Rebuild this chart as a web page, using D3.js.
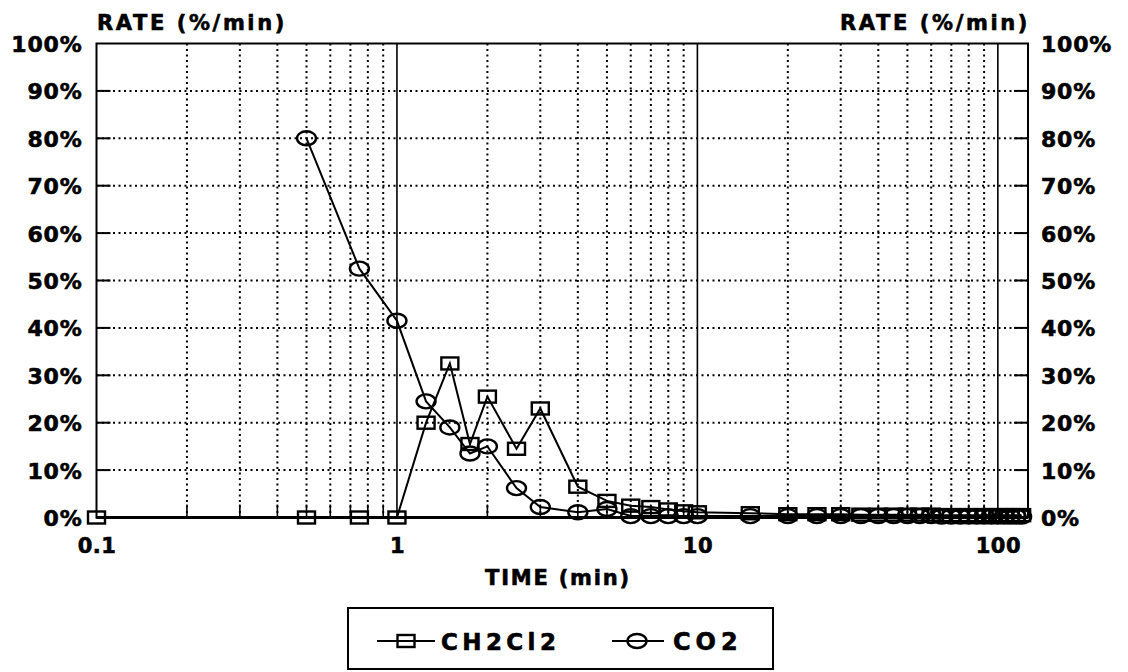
<!DOCTYPE html>
<html>
<head>
<meta charset="utf-8">
<script src="https://cdn.jsdelivr.net/npm/d3@7"></script>
<style>
  body { margin: 0; background: #fff; }
  svg { display: block; }
  text { font-family: "DejaVu Sans", sans-serif; font-weight: bold; fill: #000; stroke: #000; stroke-width: 0.6px; }
</style>
</head>
<body>
<svg id="chart" width="1128" height="672"></svg>
<script>
// Sampling times (min)
const times = [0.1, 0.5, 0.75, 1, 1.25, 1.5, 1.75, 2, 2.5, 3, 4, 5, 6, 7, 8, 9, 10, 15, 20,
  25, 30, 35, 40, 45, 50, 55, 60, 65, 70, 75, 80, 85, 90, 95, 100, 105, 110, 115, 120];

// Release rate (%/min) for each species; null = not measured
const ch2cl2 = [0, 0, 0, 0, 20, 32.5, 15.5, 25.5, 14.5, 23, 6.5, 3.5, 2.5, 2.2, 1.7, 1.3, 1.1, 0.9, 0.7,
  0.7, 0.7, 0.6, 0.6, 0.6, 0.6, 0.6, 0.6, 0.5, 0.5, 0.5, 0.5, 0.5, 0.5, 0.5, 0.5, 0.5, 0.5, 0.5, 0.5];
const co2 = [null, 80, 52.5, 41.5, 24.5, 19, 13.5, 15, 6.2, 2.2, 1.1, 1.8, 0.3, 0.3, 0.3, 0.3, 0.3, 0.3, 0.3,
  0.3, 0.3, 0.3, 0.3, 0.3, 0.3, 0.3, 0.3, 0.2, 0.2, 0.2, 0.2, 0.2, 0.2, 0.2, 0.2, 0.2, 0.2, 0.2, 0.2];

const seriesNames = ["CH2Cl2", "CO2"];
const yTicks = [0, 10, 20, 30, 40, 50, 60, 70, 80, 90, 100];
const xMajorTicks = [0.1, 1, 10, 100];
const xTickLabels = ["0.1", "1", "10", "100"];
const xMinorTicks = [0.2, 0.3, 0.4, 0.5, 0.6, 0.7, 0.8, 0.9,
  2, 3, 4, 5, 6, 7, 8, 9, 20, 30, 40, 50, 60, 70, 80, 90];
const xDomain = [0.1, 126];
const yTitle = "RATE (%/min)";
const xTitle = "TIME (min)";

const svg = d3.select("#chart");
const pL = 96.5, pR = 1028, pT = 43.5, pB = 517.5;

const x = d3.scaleLog().domain(xDomain).range([pL, pR]);
const y = d3.scaleLinear().domain([0, 100]).range([pB, pT]);

const grid = svg.append("g");

// dotted horizontal grid
grid.selectAll("line.h").data(yTicks.slice(1, -1)).join("line")
  .attr("x1", pL).attr("x2", pR)
  .attr("y1", d => y(d)).attr("y2", d => y(d))
  .attr("stroke", "#000").attr("stroke-width", 2).attr("stroke-dasharray", "2,3.5");

// dotted minor verticals
grid.selectAll("line.vm").data(xMinorTicks).join("line")
  .attr("x1", d => x(d)).attr("x2", d => x(d))
  .attr("y1", pT).attr("y2", pB)
  .attr("stroke", "#000").attr("stroke-width", 2).attr("stroke-dasharray", "2,3.5");

// solid decade verticals
grid.selectAll("line.vM").data(xMajorTicks.slice(1)).join("line")
  .attr("x1", d => x(d)).attr("x2", d => x(d))
  .attr("y1", pT).attr("y2", pB)
  .attr("stroke", "#000").attr("stroke-width", 1.6);

// inner tick marks
grid.selectAll("line.tl").data(yTicks.slice(1, -1)).join("line")
  .attr("x1", pL).attr("x2", pL + 14).attr("y1", d => y(d)).attr("y2", d => y(d))
  .attr("stroke", "#000").attr("stroke-width", 2);
grid.selectAll("line.tr").data(yTicks.slice(1, -1)).join("line")
  .attr("x1", pR - 14).attr("x2", pR).attr("y1", d => y(d)).attr("y2", d => y(d))
  .attr("stroke", "#000").attr("stroke-width", 2);
grid.selectAll("line.tb").data(xMinorTicks).join("line")
  .attr("x1", d => x(d)).attr("x2", d => x(d)).attr("y1", pB - 13).attr("y2", pB)
  .attr("stroke", "#000").attr("stroke-width", 1.6);

// frame
svg.append("rect").attr("x", pL).attr("y", pT)
  .attr("width", pR - pL).attr("height", pB - pT)
  .attr("fill", "none").attr("stroke", "#000").attr("stroke-width", 2);
svg.append("line").attr("x1", pL).attr("x2", pR).attr("y1", pB).attr("y2", pB)
  .attr("stroke", "#000").attr("stroke-width", 3);

// axes (labels only; the frame and grid are drawn above)
const fmtPct = d => d + "%";
const yl = svg.append("g").attr("transform", `translate(${pL - 14},0)`)
  .call(d3.axisLeft(y).tickValues(yTicks).tickFormat(fmtPct).tickSize(0).tickPadding(0));
const yr = svg.append("g").attr("transform", `translate(${pR + 13},0)`)
  .call(d3.axisRight(y).tickValues(yTicks).tickFormat(fmtPct).tickSize(0).tickPadding(0));
const xb = svg.append("g").attr("transform", `translate(0,${pB + 21})`)
  .call(d3.axisBottom(x).tickValues(xMajorTicks).tickFormat((d, i) => xTickLabels[i]).tickSize(0).tickPadding(0));
[yl, yr, xb].forEach(g => {
  g.select(".domain").remove();
  g.selectAll("text").style("font-family", '"DejaVu Sans", sans-serif')
    .style("font-weight", "bold").attr("fill", "#000");
});
yl.selectAll("text").style("font-size", "22px").style("letter-spacing", "0.8px").attr("dy", "0.36em");
yr.selectAll("text").style("font-size", "22px").style("letter-spacing", "0.8px").attr("dy", "0.36em");
xb.selectAll("text").style("font-size", "21px").style("letter-spacing", "0.5px");

// titles
svg.append("text").attr("x", 97).attr("y", 30).attr("font-size", 21)
  .style("letter-spacing", "2.6px").text(yTitle);
svg.append("text").attr("x", 1030).attr("y", 30).attr("font-size", 21).attr("text-anchor", "end")
  .style("letter-spacing", "2.6px").text(yTitle);
svg.append("text").attr("x", 558).attr("y", 585).attr("font-size", 21).attr("text-anchor", "middle")
  .style("letter-spacing", "1.8px").text(xTitle);

// series
const rows = times.map((t, i) => ({ t, a: ch2cl2[i], b: co2[i] }));
const lineA = d3.line().x(d => x(d.t)).y(d => y(d.a));
const lineB = d3.line().defined(d => d.b != null).x(d => x(d.t)).y(d => y(d.b));
const plot = svg.append("g");
plot.append("path").attr("d", lineA(rows)).attr("fill", "none").attr("stroke", "#000").attr("stroke-width", 2);
plot.append("path").attr("d", lineB(rows)).attr("fill", "none").attr("stroke", "#000").attr("stroke-width", 2);

const sqW = 17, sqH = 12, ex = 9.5, ey = 7;
function square(g, cx, cy) {
  g.append("rect").attr("x", cx - sqW / 2).attr("y", cy - sqH / 2).attr("width", sqW).attr("height", sqH)
    .attr("fill", "none").attr("stroke", "#000").attr("stroke-width", 2.4);
}
function circle(g, cx, cy) {
  g.append("ellipse").attr("cx", cx).attr("cy", cy).attr("rx", ex).attr("ry", ey)
    .attr("fill", "none").attr("stroke", "#000").attr("stroke-width", 2.4);
}
rows.forEach(d => square(plot, x(d.t), y(d.a)));
rows.filter(d => d.b != null).forEach(d => circle(plot, x(d.t), y(d.b)));

// legend
const lg = svg.append("g");
lg.append("rect").attr("x", 348).attr("y", 608).attr("width", 425).attr("height", 61)
  .attr("fill", "none").attr("stroke", "#000").attr("stroke-width", 2);
const ly = 641;
lg.append("line").attr("x1", 377).attr("x2", 435).attr("y1", ly).attr("y2", ly).attr("stroke", "#000").attr("stroke-width", 2);
square(lg, 406, ly);
lg.append("text").attr("x", 441).attr("y", ly + 8.5).attr("font-size", 23).style("letter-spacing", "4.4px").text(seriesNames[0]);
lg.append("line").attr("x1", 612).attr("x2", 664).attr("y1", ly).attr("y2", ly).attr("stroke", "#000").attr("stroke-width", 2);
circle(lg, 637, ly);
lg.append("text").attr("x", 673).attr("y", ly + 8.5).attr("font-size", 24).style("letter-spacing", "5px").text(seriesNames[1]);
</script>
</body>
</html>
